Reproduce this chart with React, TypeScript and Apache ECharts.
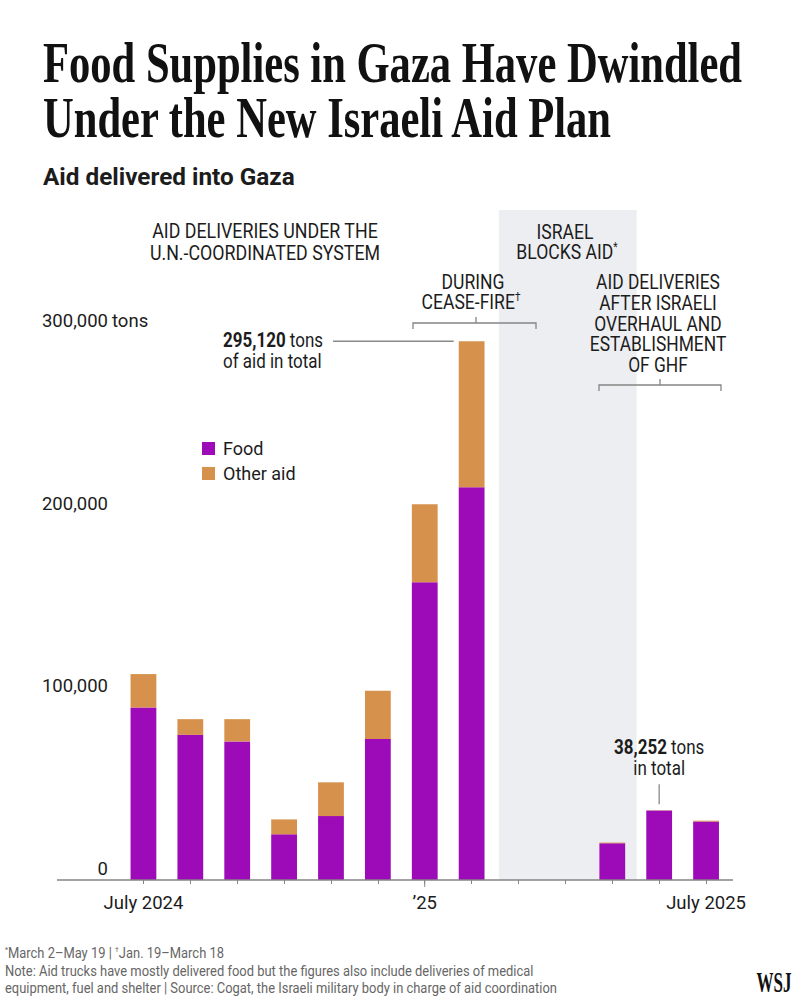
import React, { useEffect, useRef } from 'react';
import * as echarts from 'echarts';

// ---------- data ----------
const months = [
  'Jul 2024', 'Aug 2024', 'Sep 2024', 'Oct 2024', 'Nov 2024', 'Dec 2024',
  'Jan 2025', 'Feb 2025', 'Mar 2025', 'Apr 2025', 'May 2025', 'Jun 2025', 'Jul 2025',
];
const xTickLabels = ['July 2024', '', '', '', '', '', '\u201925', '', '', '', '', '', 'July 2025'];
const foodTons = [94500, 79500, 75900, 25000, 35000, 77300, 163100, 215100, 0, 0, 20100, 38100, 32000];
const otherAidTons = [18300, 8600, 12200, 8200, 18500, 26300, 42700, 80020, 0, 0, 400, 152, 500];
const yTickValues = [0, 100000, 200000, 300000];
const yTickLabels = ['0', '100,000', '200,000', '300,000'];
const yMax = 367000;
const blockedSpan = [7.58, 10.52]; // category-index span of the "Israel blocks aid" shading

const titleLines = ['Food Supplies in Gaza Have Dwindled', 'Under the New Israeli Aid Plan'];
const subtitle = 'Aid delivered into Gaza';
const unLines = ['AID DELIVERIES UNDER THE', 'U.N.-COORDINATED SYSTEM'];
const blockLines = ['ISRAEL', 'BLOCKS AID'];
const ceaseLines = ['DURING', 'CEASE-FIRE'];
const ghfLines = ['AID DELIVERIES', 'AFTER ISRAELI', 'OVERHAUL AND', 'ESTABLISHMENT', 'OF GHF'];
const footnote1 = ['March 2\u2013May 19 | ', 'Jan. 19\u2013March 18'];
const footnote2 = 'Note: Aid trucks have mostly delivered food but the figures also include deliveries of medical';
const footnote3 = 'equipment, fuel and shelter | Source: Cogat, the Israeli military body in charge of aid coordination';

// ---------- style ----------
const SANS = 'Roboto, "Noto Sans", Arial, sans-serif';
const SERIF = '"Liberation Serif", "Times New Roman", serif';
const INK = '#1c1c1c';
const GREY = '#666666';
const FOOD = '#9d0bb8';
const OTHER = '#d6914c';
const SHADE = '#edeef1';
const RULE = '#858585';

let measureCtx: CanvasRenderingContext2D | null = null;
function tw(text: string, size: number, weight = 'normal', family = SANS): number {
  if (!measureCtx) measureCtx = document.createElement('canvas').getContext('2d');
  measureCtx!.font = `${weight} ${size}px ${family}`;
  return measureCtx!.measureText(text).width;
}

function T(text: string, x: number, y: number, o: any) {
  return {
    type: 'text',
    x,
    y,
    scaleX: o.sx ?? 1,
    z: 20,
    silent: true,
    style: {
      text,
      fill: o.color ?? INK,
      fontSize: o.size,
      fontWeight: o.weight ?? 'normal',
      fontFamily: o.family ?? SANS,
      align: o.align ?? 'left',
      verticalAlign: 'middle',
      rich: o.rich,
    },
  };
}

function L(x1: number, y1: number, x2: number, y2: number, color = RULE, w = 1.3) {
  return { type: 'line', z: 15, silent: true, shape: { x1, y1, x2, y2 }, style: { stroke: color, lineWidth: w } };
}

function P(points: number[][], color = RULE, w = 1.3) {
  return { type: 'polyline', z: 15, silent: true, shape: { points }, style: { stroke: color, lineWidth: w, fill: null } };
}

export default function App() {
  const ref = useRef<HTMLDivElement>(null);

  useEffect(() => {
    document.body.style.margin = '0';
    const chart = echarts.init(ref.current!, null, { renderer: 'svg' });

    const option: any = {
      animation: false,
      backgroundColor: '#ffffff',
      textStyle: { fontFamily: SANS },
      grid: { left: 120, right: 68.5, top: 210, bottom: 120 },
      legend: {
        data: ['Food', 'Other aid'],
        orient: 'vertical',
        left: 197,
        top: 434,
        icon: 'rect',
        itemWidth: 13,
        itemHeight: 13,
        itemGap: 6,
        selectedMode: false,
        textStyle: { fontSize: 18, color: INK, fontFamily: SANS, lineHeight: 19, padding: [0, 0, 0, 3] },
      },
      xAxis: [
        {
          type: 'category',
          data: months,
          axisLine: { show: false },
          axisTick: { show: true, alignWithLabel: true, interval: 0, length: 4, lineStyle: { color: RULE, width: 1 } },
          axisLabel: {
            interval: (i: number) => xTickLabels[i] !== '',
            formatter: (_v: string, i: number) => xTickLabels[i],
            fontSize: 18.5,
            color: INK,
            fontFamily: SANS,
            margin: 13,
          },
          splitLine: { show: false },
        },
        { type: 'value', min: -0.5, max: 12.5, show: false },
      ],
      yAxis: {
        type: 'value',
        min: 0,
        max: yMax,
        interval: 100000,
        splitLine: { show: false },
        axisLine: { show: false },
        axisTick: { show: false },
        axisLabel: {
          showMaxLabel: false,
          formatter: (v: number) => {
            const k = yTickValues.indexOf(v);
            return k >= 0 ? yTickLabels[k] : '';
          },
          fontSize: 18.5,
          color: INK,
          fontFamily: SANS,
          margin: 12,
          verticalAlign: 'bottom',
          lineHeight: 22,
        },
      },
      series: [
        {
          name: 'Israel blocks aid',
          type: 'line',
          xAxisIndex: 1,
          yAxisIndex: 0,
          data: [],
          silent: true,
          markArea: {
            silent: true,
            itemStyle: { color: SHADE },
            data: [[{ xAxis: blockedSpan[0] }, { xAxis: blockedSpan[1] }]],
          },
        },
        { name: 'Food', type: 'bar', stack: 'aid', data: foodTons, barWidth: '55%', itemStyle: { color: FOOD } },
        { name: 'Other aid', type: 'bar', stack: 'aid', data: otherAidTons, barWidth: '55%', itemStyle: { color: OTHER } },
      ],
    };

    chart.setOption(option);

    const px = (i: number, v: number) =>
      chart.convertToPixel({ xAxisIndex: 0, yAxisIndex: 0 } as any, [months[i], v]) as unknown as number[];

    const y0 = px(0, 0)[1];
    const bandW = px(1, 0)[0] - px(0, 0)[0];
    const g: any[] = [];

    // title
    const tSize = 57;
    const sT = 699 / tw(titleLines[0], tSize, 'bold', SERIF);
    g.push(T(titleLines[0], 43, 82 - 0.3375 * tSize, { size: tSize, weight: 'bold', family: SERIF, sx: sT, color: '#111' }));
    g.push(T(titleLines[1], 43, 137 - 0.3375 * tSize, { size: tSize, weight: 'bold', family: SERIF, sx: sT, color: '#111' }));

    // subtitle
    const sSize = 23;
    const sS = 252 / tw(subtitle, sSize, 'bold');
    g.push(T(subtitle, 43, 185 - 0.34 * sSize, { size: sSize, weight: 'bold', sx: sS }));

    // annotation blocks
    const aSize = 21;
    const sA = 226 / tw(unLines[0], aSize);
    g.push(T(unLines[0], 265, 230.5, { size: aSize, sx: sA, align: 'center' }));
    g.push(T(unLines[1], 265, 252.5, { size: aSize, sx: sA, align: 'center' }));

    const supRich = (size: number, color = INK) => ({
      a: { fontSize: size, fontFamily: SANS, fontWeight: 'normal', fill: color },
      s: { fontSize: Math.round(size * 0.55), fontFamily: SANS, fontWeight: 'normal', fill: color, verticalAlign: 'top' },
    });

    const sB = 97 / tw(blockLines[1], aSize);
    g.push(T(blockLines[0], 565, 231.5, { size: aSize, sx: sB, align: 'center' }));
    g.push(T(`{a|${blockLines[1]}}{s|*}`, 567, 252, { size: aSize, sx: sB, align: 'center', rich: supRich(aSize) }));

    const sC = 63 / tw(ceaseLines[0], aSize);
    g.push(T(ceaseLines[0], 473, 282, { size: aSize, sx: sC, align: 'center' }));
    g.push(T(`{a|${ceaseLines[1]}}{s|\u2020}`, 471, 302, { size: aSize, sx: sC, align: 'center', rich: supRich(aSize) }));
    g.push(P([[413, 329], [413, 323], [536, 323], [536, 329]]));
    g.push(L(476, 317, 476, 323));

    const sD = 136.7 / tw('ESTABLISHMENT', aSize);
    const ghfY = [282, 303, 323.5, 344, 365];
    ghfLines.forEach((t, k) => g.push(T(t, 658, ghfY[k], { size: aSize, sx: sD, align: 'center' })));
    g.push(P([[599, 391], [599, 385], [721, 385], [721, 391]]));
    g.push(L(660, 379, 660, 385));

    // y-axis unit
    const y300 = px(0, 300000)[1];
    g.push(T('tons', 112, y300 - 11, { size: 18.5 }));

    // baseline and long tick for '25
    g.push(L(57, y0, 733, y0, RULE, 1.5));
    const xJan = px(6, 0)[0];
    g.push(L(xJan, y0, xJan, y0 + 7, RULE, 1));

    // 295,120 annotation
    const nSize = 20;
    const febTop = px(7, foodTons[7] + otherAidTons[7]);
    const sN = 100 / (tw('295,120', nSize, 'bold') + tw(' tons', nSize));
    const richN = {
      b: { fontSize: nSize, fontFamily: SANS, fontWeight: 'bold', fill: INK },
      r: { fontSize: nSize, fontFamily: SANS, fontWeight: 'normal', fill: INK },
    };
    g.push(T('{b|295,120}{r| tons}', 223, febTop[1] - 1, { size: nSize, sx: sN, rich: richN }));
    g.push(T('of aid in total', 223, febTop[1] + 20, { size: nSize, sx: sN }));
    g.push(L(333, febTop[1], febTop[0] - bandW * 0.275 - 5, febTop[1], '#8a8a8a', 1.3));

    // 38,252 annotation
    const junTop = px(11, foodTons[11] + otherAidTons[11]);
    g.push(T('{b|38,252}{r| tons}', junTop[0], junTop[1] - 63, { size: nSize, sx: sN, rich: richN, align: 'center' }));
    g.push(T('in total', junTop[0], junTop[1] - 42, { size: nSize, sx: sN, align: 'center' }));
    g.push(L(junTop[0], junTop[1] - 26, junTop[0], junTop[1] - 6, '#8a8a8a', 1.3));

    // footnotes
    const fSize = 15;
    const sF = 552 / tw(footnote3, fSize);
    g.push(
      T(`{s|*}{a|${footnote1[0]}}{s|\u2020}{a|${footnote1[1]}}`, 5, 953, {
        size: fSize,
        sx: sF,
        color: GREY,
        rich: supRich(fSize, GREY),
      })
    );
    g.push(T(footnote2, 5, 971, { size: fSize, sx: sF, color: GREY }));
    g.push(T(footnote3, 5, 988, { size: fSize, sx: sF, color: GREY }));

    // WSJ logo
    const wSize = 30;
    const sW = 35 / tw('WSJ', wSize, 'bold', SERIF);
    g.push(T('WSJ', 774, 991.5 - 0.3375 * wSize, { size: wSize, weight: 'bold', family: SERIF, sx: sW, align: 'center', color: '#111' }));

    chart.setOption({ graphic: g });

    return () => chart.dispose();
  }, []);

  return <div ref={ref} style={{ width: 798, height: 1000 }} />;
}
